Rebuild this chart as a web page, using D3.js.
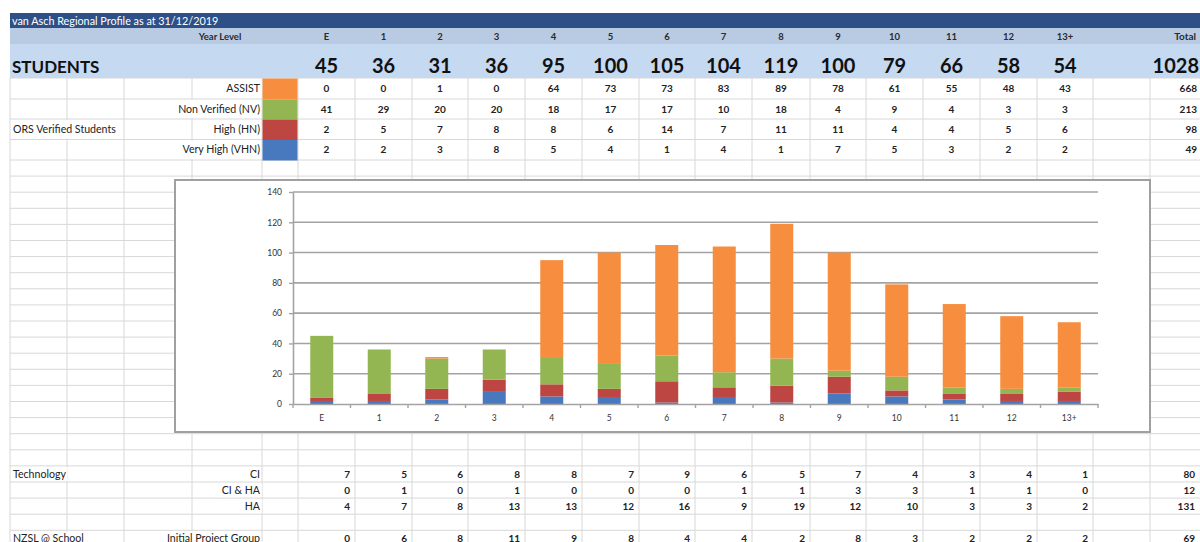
<!DOCTYPE html>
<html>
<head>
<meta charset="utf-8">
<script src="https://cdn.jsdelivr.net/npm/d3@7"></script>
<style>
  body{margin:0;background:#fff;}
  svg{display:block;font-family:Lato,"DejaVu Sans",sans-serif;}
</style>
</head>
<body>
<main></main>
<script>
const w=1200;
const h=542;

// Sheet data
const yearLevels=["E","1","2","3","4","5","6","7","8","9","10","11","12","13+"];
const assist=[0,0,1,0,64,73,73,83,89,78,61,55,48,43];
const nonVerified=[41,29,20,20,18,17,17,10,18,4,9,4,3,3];
const highNeeds=[2,5,7,8,8,6,14,7,11,11,4,4,5,6];
const veryHighNeeds=[2,2,3,8,5,4,1,4,1,7,5,3,2,2];
const techCI=[7,5,6,8,8,7,9,6,5,7,4,3,4,1];
const techCIHA=[0,1,0,1,0,0,0,1,1,3,3,1,1,0];
const techHA=[4,7,8,13,13,12,16,9,19,12,10,3,3,2];
const nzslInitial=[0,6,8,11,9,8,4,4,2,8,3,2,2,2];
const yTicks=[0,20,40,60,80,100,120,140];

const colors={assist:"#f68d3f",nv:"#94b652",hn:"#bd4643",vhn:"#4878bd"};

// layout of the spreadsheet
const colEdges=[10,67,124,192,262,298,355,412,468,525,582,639,695,752,810,866,923,980,1037,1093,1150];
const upperRows=[78,99,119,139.5,160];
const rowStep=16.1;
const lowerRows=d3.range(0,24).map(k=>160+k*rowStep).filter(y=>y<h+2);
const rowLines=upperRows.concat(lowerRows.slice(1));
const colCenter=i=>(colEdges[5+i]+colEdges[6+i])/2;
const colRight=i=>colEdges[6+i];

const svg=d3.select("main")
  .append("svg")
  .attr("width",w)
  .attr("height",h);

// Grid lines of the sheet
const grid=svg.append("g").attr("stroke","#d8d8d8").attr("stroke-width",1);
grid.selectAll("line.h")
  .data(rowLines)
  .enter()
  .append("line")
  .attr("x1",10).attr("x2",w)
  .attr("y1",d=>d).attr("y2",d=>d);
grid.selectAll("line.v")
  .data(colEdges)
  .enter()
  .append("line")
  .attr("x1",d=>d).attr("x2",d=>d)
  .attr("y1",78).attr("y2",h);

// Title and header bands
svg.append("rect").attr("x",10).attr("y",13).attr("width",w-10).attr("height",15).attr("fill","#2d5187");
svg.append("rect").attr("x",10).attr("y",28).attr("width",w-10).attr("height",16).attr("fill","#b8cbe3");
svg.append("rect").attr("x",10).attr("y",44).attr("width",w-10).attr("height",34).attr("fill","#c5d9f1");

svg.append("text")
  .attr("x",12).attr("y",24.5)
  .attr("font-size",10.8).attr("fill","#fff")
  .text("van Asch Regional Profile as at 31/12/2019");
svg.append("text")
  .attr("x",220).attr("y",40)
  .attr("text-anchor","middle")
  .attr("font-size",9.5).attr("font-weight","bold").attr("fill","#2a2a2a")
  .text("Year Level");
svg.selectAll("text.hdr")
  .data(yearLevels)
  .enter()
  .append("text")
  .attr("x",(d,i)=>colCenter(i)).attr("y",40)
  .attr("text-anchor","middle")
  .attr("font-size",9.5).attr("font-weight","bold").attr("fill","#2a2a2a")
  .text(d=>d);
svg.append("text")
  .attr("x",1196).attr("y",40)
  .attr("text-anchor","end")
  .attr("font-size",10).attr("font-weight","bold").attr("fill","#2a2a2a")
  .text("Total");

// STUDENTS row
const totals=yearLevels.map((d,i)=>assist[i]+nonVerified[i]+highNeeds[i]+veryHighNeeds[i]);
svg.append("text")
  .attr("x",12).attr("y",72.5)
  .attr("font-size",17).attr("font-weight","bold").attr("fill","#111")
  .text("STUDENTS");
svg.selectAll("text.tot")
  .data(totals)
  .enter()
  .append("text")
  .attr("x",(d,i)=>colCenter(i)).attr("y",73)
  .attr("text-anchor","middle")
  .attr("font-size",20).attr("font-weight","bold").attr("fill","#111")
  .text(d=>d);
svg.append("text")
  .attr("x",1199).attr("y",73)
  .attr("text-anchor","end")
  .attr("font-size",20).attr("font-weight","bold").attr("fill","#111")
  .text(d3.sum(totals));

// Labels layer with white backing where text spills over gridlines
const labels=svg.append("g");
const label=(x,rowTop,rowH,txt,anchor)=>{
  const t=labels.append("text")
    .attr("x",x).attr("y",rowTop+rowH/2+3.7)
    .attr("text-anchor",anchor)
    .attr("font-size",10.6).attr("fill","#222")
    .text(txt);
  const b=t.node().getBBox();
  labels.insert("rect",()=>t.node())
    .attr("x",b.x-1).attr("y",rowTop+1)
    .attr("width",b.width+2).attr("height",rowH-2)
    .attr("fill","#fff");
};

// Upper student rows
const studentRows=[
  {name:"ASSIST",values:assist,color:colors.assist},
  {name:"Non Verified (NV)",values:nonVerified,color:colors.nv},
  {name:"High (HN)",values:highNeeds,color:colors.hn},
  {name:"Very High (VHN)",values:veryHighNeeds,color:colors.vhn}
];
studentRows.forEach((r,k)=>{
  const top=upperRows[k];
  const rh=upperRows[k+1]-top;
  label(260,top,rh,r.name,"end");
  svg.append("rect")
    .attr("x",262.5).attr("y",top+0.5)
    .attr("width",35).attr("height",rh)
    .attr("fill",r.color);
  svg.selectAll(null)
    .data(r.values)
    .enter()
    .append("text")
    .attr("x",(d,i)=>colCenter(i)).attr("y",top+rh/2+3.7)
    .attr("text-anchor","middle")
    .attr("font-size",10).attr("font-weight","bold").attr("fill","#222")
    .text(d=>d);
  svg.append("text")
    .attr("x",1197).attr("y",top+rh/2+3.7)
    .attr("text-anchor","end")
    .attr("font-size",10).attr("font-weight","bold").attr("fill","#222")
    .text(d3.sum(r.values));
});
label(13,upperRows[2],upperRows[3]-upperRows[2],"ORS Verified Students","start");

// Lower rows
const lowerData=[
  {row:19,name:"CI",values:techCI,group:"Technology"},
  {row:20,name:"CI & HA",values:techCIHA},
  {row:21,name:"HA",values:techHA},
  {row:23,name:"Initial Project Group",values:nzslInitial,group:"NZSL @ School"}
];
lowerData.forEach(r=>{
  const top=lowerRows[r.row];
  if(r.group) label(13,top,rowStep,r.group,"start");
  label(260,top,rowStep,r.name,"end");
  svg.selectAll(null)
    .data(r.values)
    .enter()
    .append("text")
    .attr("x",(d,i)=>colRight(i)-5).attr("y",top+rowStep/2+3.7)
    .attr("text-anchor","end")
    .attr("font-size",10).attr("font-weight","bold").attr("fill","#222")
    .text(d=>d);
  svg.append("text")
    .attr("x",1195).attr("y",top+rowStep/2+3.7)
    .attr("text-anchor","end")
    .attr("font-size",10).attr("font-weight","bold").attr("fill","#222")
    .text(d3.sum(r.values));
});

// Embedded chart
svg.append("rect")
  .attr("x",175).attr("y",180)
  .attr("width",975).attr("height",252)
  .attr("fill","#fff")
  .attr("stroke","#a0a0a0").attr("stroke-width",2);

const xScale=d3.scaleBand()
  .domain(yearLevels)
  .range([293,1098]);
const yScale=d3.scaleLinear()
  .domain([0,140])
  .range([404,192]);

// gridlines
svg.append("g")
  .selectAll("line")
  .data(yTicks.slice(1))
  .enter()
  .append("line")
  .attr("x1",293).attr("x2",1098)
  .attr("y1",d=>yScale(d)).attr("y2",d=>yScale(d))
  .attr("stroke","#a3a3a3").attr("stroke-width",1.6);

const table=yearLevels.map((d,i)=>({
  year:d,vhn:veryHighNeeds[i],hn:highNeeds[i],nv:nonVerified[i],assist:assist[i]
}));
const series=d3.stack().keys(["vhn","hn","nv","assist"])(table);
const bw=xScale.bandwidth()*0.4;
svg.append("g")
  .selectAll("g")
  .data(series)
  .enter()
  .append("g")
  .attr("fill",d=>colors[d.key])
  .selectAll("rect")
  .data(d=>d)
  .enter()
  .append("rect")
  .attr("x",d=>xScale(d.data.year)+(xScale.bandwidth()-bw)/2)
  .attr("width",bw)
  .attr("y",d=>yScale(d[1]))
  .attr("height",d=>yScale(d[0])-yScale(d[1]));

// axes
const yAxis=d3.axisLeft(yScale)
  .tickValues(yTicks)
  .tickSizeInner(4)
  .tickSizeOuter(0)
  .tickPadding(7);
const yG=svg.append("g")
  .attr("transform","translate(293,0)")
  .call(yAxis);
yG.select(".domain").attr("stroke","#a3a3a3").attr("stroke-width",1.6);
yG.selectAll(".tick line").attr("stroke","#a3a3a3").attr("stroke-width",1.4);
yG.selectAll("text").attr("font-size",8.5).attr("fill","#333").attr("font-family","Lato,sans-serif");

const xAxis=d3.axisBottom(xScale)
  .tickSize(0)
  .tickPadding(11);
const xG=svg.append("g")
  .attr("transform","translate(0,404)")
  .call(xAxis);
xG.select(".domain").attr("stroke","#a3a3a3").attr("stroke-width",1.6);
xG.selectAll("text").attr("font-size",8.5).attr("fill","#333").attr("font-family","Lato,sans-serif");
svg.append("g")
  .selectAll("line")
  .data(yearLevels.map(d=>xScale(d)).concat([xScale.range()[1]]))
  .enter()
  .append("line")
  .attr("x1",d=>d).attr("x2",d=>d)
  .attr("y1",404).attr("y2",408)
  .attr("stroke","#a3a3a3").attr("stroke-width",1.4);
</script>
</body>
</html>
